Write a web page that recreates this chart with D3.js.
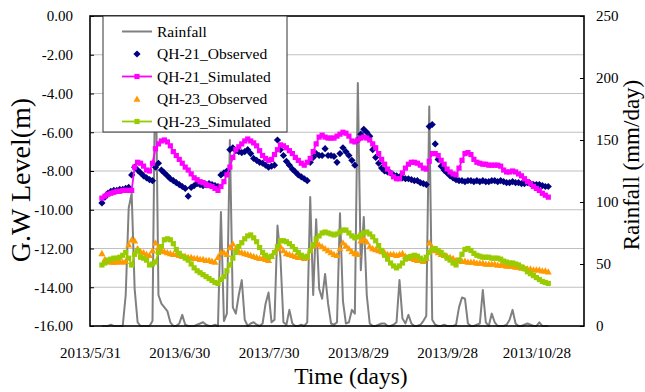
<!DOCTYPE html>
<html><head><meta charset="utf-8">
<script src="https://cdn.jsdelivr.net/npm/d3@7"></script>
<style>
html,body{margin:0;padding:0;background:#fff;}
svg{display:block;}
svg text{font-family:"Liberation Serif","Times New Roman",serif !important;fill:#000;}
</style></head><body>
<svg id="chart" width="645" height="392"></svg>
<script>
// Daily records, one value per day starting on this date
const startDate = "2013-06-04";

// Rainfall (mm/day)
const rainfall = [
  0,0,0,1,0,0,0,0,25,95,
  107,30,3,0,0,0,0,4,230,25,
  18,15,12,3,0,0,2,9,1,0,
  0,0,1,2,3,1,0,0,1,0,
  92,4,10,150,15,10,25,37,5,0,
  2,3,1,0,2,18,27,3,5,81,
  55,3,1,13,2,0,0,1,0,3,
  104,25,86,30,22,42,18,2,1,3,
  91,20,2,3,13,10,196,45,88,25,
  2,0,0,1,2,2,0,0,1,3,
  37,6,2,9,2,0,0,1,4,8,
  177,5,1,0,0,1,0,0,0,1,
  15,23,22,2,0,0,1,2,29,3,
  0,10,3,0,0,0,1,5,13,2,
  0,0,1,2,1,0,0,3,0,0,
  0
];

// Groundwater level (m), well QH-21
const qh21Observed = [
  -9.65,-9.35,-9.15,-9.05,-9.0,-9.0,-8.95,-8.95,-8.9,-8.85,
  -8.2,-7.8,-7.95,-8.1,-8.25,-8.35,-8.45,-8.5,-7.8,-7.6,
  -7.95,-8.1,-8.25,-8.4,-8.5,-8.6,-8.7,-8.8,-8.9,-9.3,
  -8.85,-8.75,-8.65,-8.7,-8.75,-8.7,-8.65,-8.7,-8.75,-8.8,
  -8.2,-8.1,-8.0,-6.9,-6.8,-6.95,-7.0,-7.05,-7.0,-6.9,
  -7.1,-7.35,-7.45,-7.55,-7.6,-7.7,-7.8,-7.75,-7.7,-6.4,
  -6.9,-7.2,-7.5,-7.7,-7.9,-8.05,-8.2,-8.3,-8.4,-8.5,
  -7.55,-7.3,-7.1,-7.2,-7.2,-6.85,-7.2,-7.2,-7.25,-7.55,
  -7.1,-6.8,-7.0,-7.2,-7.45,-7.7,-6.4,-6.1,-5.85,-6.0,
  -6.2,-6.9,-7.3,-7.6,-7.85,-8.0,-8.05,-8.1,-8.2,-8.25,
  -8.3,-8.35,-8.4,-8.4,-8.45,-8.5,-8.5,-8.6,-8.65,-8.7,
  -5.7,-5.6,-6.6,-7.4,-7.75,-7.95,-8.1,-8.25,-8.35,-8.45,
  -8.5,-8.5,-8.55,-8.5,-8.5,-8.55,-8.5,-8.55,-8.5,-8.55,
  -8.55,-8.5,-8.5,-8.55,-8.5,-8.55,-8.6,-8.6,-8.55,-8.6,
  -8.6,-8.65,-8.65,-8.6,-8.65,-8.7,-8.7,-8.7,-8.75,-8.8,
  -8.8
];
const qh21Simulated = [
  -9.4,-9.3,-9.2,-9.15,-9.1,-9.05,-9.05,-9.0,-9.0,-9.0,
  -9.0,-7.8,-7.55,-7.6,-7.75,-7.95,-8.0,-7.6,-6.85,-6.6,
  -6.45,-6.4,-6.5,-6.7,-7.0,-7.2,-7.4,-7.6,-7.8,-7.95,
  -8.15,-8.35,-8.45,-8.55,-8.6,-8.7,-8.75,-8.8,-8.9,-9.0,
  -8.8,-8.55,-8.2,-7.8,-7.3,-6.9,-6.75,-6.6,-6.45,-6.35,
  -6.45,-6.55,-6.7,-6.95,-7.2,-7.35,-7.45,-7.4,-7.15,-6.9,
  -6.65,-6.7,-6.8,-6.95,-7.1,-7.3,-7.45,-7.6,-7.7,-7.55,
  -7.35,-7.0,-6.6,-6.25,-6.15,-6.25,-6.3,-6.3,-6.3,-6.2,
  -6.1,-6.0,-6.05,-6.2,-6.45,-6.5,-6.4,-6.3,-6.25,-6.3,
  -6.4,-6.6,-6.8,-7.1,-7.4,-7.65,-7.9,-8.1,-8.3,-8.4,
  -8.4,-8.1,-7.85,-7.65,-7.55,-7.55,-7.6,-7.7,-7.85,-7.9,
  -7.5,-7.1,-7.1,-7.2,-7.45,-7.65,-7.9,-8.05,-8.15,-8.2,
  -7.85,-7.45,-7.1,-7.05,-7.15,-7.4,-7.55,-7.6,-7.65,-7.65,
  -7.7,-7.7,-7.7,-7.7,-7.75,-7.95,-8.05,-8.05,-8.0,-8.05,
  -8.15,-8.25,-8.4,-8.55,-8.65,-8.8,-8.9,-9.0,-9.15,-9.25,
  -9.35
];

// Groundwater level (m), well QH-23
const qh23Observed = [
  -12.25,-12.55,-12.65,-12.7,-12.7,-12.7,-12.65,-12.7,-12.65,-11.8,
  -11.55,-11.6,-12.0,-12.15,-12.2,-12.3,-12.35,-12.1,-11.7,-11.95,
  -12.1,-12.15,-12.2,-12.25,-12.3,-12.3,-12.35,-12.4,-12.4,-12.45,
  -12.45,-12.5,-12.5,-12.55,-12.55,-12.6,-12.6,-12.65,-12.7,-12.45,
  -12.2,-12.2,-12.3,-11.95,-11.75,-12.0,-12.15,-12.2,-12.25,-12.3,
  -12.35,-12.4,-12.45,-12.5,-12.5,-12.55,-12.6,-12.4,-12.2,-12.0,
  -11.9,-12.1,-12.25,-12.3,-12.35,-12.4,-12.45,-12.45,-12.5,-12.45,
  -12.1,-11.85,-11.7,-11.8,-11.9,-12.0,-12.1,-12.2,-12.3,-12.35,
  -12.0,-11.7,-11.85,-12.0,-12.15,-12.25,-12.3,-11.6,-11.5,-11.65,
  -11.9,-12.0,-12.05,-12.1,-12.15,-12.2,-12.3,-12.3,-12.3,-12.35,
  -12.3,-12.25,-12.4,-12.45,-12.5,-12.55,-12.6,-12.6,-12.65,-12.5,
  -11.7,-11.95,-12.1,-12.2,-12.3,-12.35,-12.4,-12.45,-12.5,-12.6,
  -12.6,-12.65,-12.65,-12.7,-12.7,-12.7,-12.75,-12.75,-12.75,-12.8,
  -12.8,-12.8,-12.8,-12.85,-12.85,-12.85,-12.9,-12.9,-12.9,-12.95,
  -12.95,-13.0,-13.0,-13.05,-13.05,-13.1,-13.1,-13.1,-13.15,-13.15,
  -13.2
];
const qh23Simulated = [
  -12.85,-12.75,-12.6,-12.55,-12.5,-12.5,-12.45,-12.35,-12.2,-12.5,
  -12.85,-12.3,-12.1,-12.45,-12.5,-12.6,-12.85,-12.8,-12.7,-12.2,
  -11.9,-11.55,-11.5,-11.55,-11.75,-12.05,-12.25,-12.4,-12.5,-12.6,
  -12.8,-13.0,-13.15,-13.25,-13.35,-13.45,-13.55,-13.65,-13.75,-13.8,
  -13.6,-13.45,-13.15,-12.85,-12.5,-12.2,-11.9,-11.7,-11.5,-11.35,
  -11.3,-11.45,-11.65,-11.95,-12.2,-12.35,-12.45,-12.4,-12.2,-11.9,
  -11.6,-11.6,-11.65,-11.75,-11.9,-12.05,-12.2,-12.35,-12.45,-12.4,
  -12.1,-11.8,-11.5,-11.35,-11.2,-11.15,-11.2,-11.25,-11.3,-11.25,
  -11.15,-11.05,-11.05,-11.2,-11.35,-11.45,-11.4,-11.3,-11.2,-11.15,
  -11.25,-11.4,-11.6,-11.85,-12.1,-12.35,-12.55,-12.75,-12.9,-13.0,
  -12.9,-12.75,-12.55,-12.45,-12.4,-12.35,-12.4,-12.5,-12.6,-12.45,
  -12.2,-12.05,-12.0,-12.1,-12.2,-12.35,-12.5,-12.6,-12.75,-12.85,
  -12.6,-12.3,-12.05,-12.0,-12.1,-12.25,-12.35,-12.4,-12.45,-12.45,
  -12.45,-12.5,-12.5,-12.5,-12.55,-12.65,-12.7,-12.75,-12.75,-12.8,
  -12.85,-12.95,-13.05,-13.2,-13.3,-13.4,-13.5,-13.6,-13.7,-13.75,
  -13.8
];

// Axis labels
const xTickLabels = ["2013/5/31","2013/6/30","2013/7/30","2013/8/29","2013/9/28","2013/10/28"];
const xDomainLabels = ["2013/5/31","2013/11/13"];
const levelTicks = [0,-2,-4,-6,-8,-10,-12,-14,-16];
const rainTicks = [0,50,100,150,200,250];
const legendLabels = ["Rainfall","QH-21_Observed","QH-21_Simulated","QH-23_Observed","QH-23_Simulated"];

const parseSlash = d3.timeParse("%Y/%m/%d");
const start = d3.timeParse("%Y-%m-%d")(startDate);
const dates = rainfall.map((_, i) => d3.timeDay.offset(start, i));

const L = 90, R = 584, T = 16, B = 326;
const svg = d3.select("#chart");

const x = d3.scaleTime().domain(xDomainLabels.map(parseSlash)).range([L, R]);
const y = d3.scaleLinear().domain([-16, 0]).range([B, T]);
const yRain = d3.scaleLinear().domain([0, 250]).range([B, T]);

const colors = {
  rain: "#808080",
  obs21: "#000080",
  sim21: "#ff00ff",
  obs23: "#ff9900",
  sim23: "#99cc00"
};

// horizontal gridlines
svg.append("g").selectAll("line")
  .data(levelTicks.filter(v => v !== 0 && v !== -16))
  .join("line")
  .attr("x1", L).attr("x2", R)
  .attr("y1", d => y(d)).attr("y2", d => y(d))
  .attr("stroke", "#c0c0c0").attr("stroke-width", 1.2);

// left axis
const axisLeft = svg.append("g").attr("transform", `translate(${L},0)`)
  .call(d3.axisLeft(y).tickValues(levelTicks).tickSize(-4).tickPadding(17)
    .tickFormat(d => d.toFixed(2)));
axisLeft.select(".domain").remove();

// right axis (rainfall)
const axisRight = svg.append("g").attr("transform", `translate(${R},0)`)
  .call(d3.axisRight(yRain).tickValues(rainTicks).tickSize(-4).tickPadding(12)
    .tickFormat(d3.format("d")));
axisRight.select(".domain").remove();

// bottom axis (dates)
const axisBottom = svg.append("g").attr("transform", `translate(0,${B})`)
  .call(d3.axisBottom(x).tickValues(xTickLabels.map(parseSlash)).tickSize(0).tickPadding(21)
    .tickFormat(d3.timeFormat("%Y/%-m/%-d")));
axisBottom.select(".domain").remove();

[axisLeft, axisRight, axisBottom].forEach(a => a.attr("font-family", null).attr("font-size", 15));
svg.selectAll(".tick line").attr("stroke", "#000");

// rainfall line
const plot = svg.append("g");
plot.append("path")
  .datum(rainfall)
  .attr("fill", "none").attr("stroke", colors.rain).attr("stroke-width", 2)
  .attr("stroke-linejoin", "round")
  .attr("d", d3.line().x((d, i) => x(dates[i])).y(d => yRain(d)));

const diamond = r => `M0,${-r}L${r},0L0,${r}L${-r},0Z`;
const triangle = r => `M0,${-r}L${r},${r * 0.8}L${-r},${r * 0.8}Z`;
const square = "M-2.6,-2.6H2.6V2.6H-2.6Z";
const levelLine = d3.line().x((d, i) => x(dates[i])).y(d => y(d));

function drawMarkers(values, shape, color) {
  plot.append("g").selectAll("path")
    .data(values)
    .join("path")
    .attr("transform", (d, i) => `translate(${x(dates[i])},${y(d)})`)
    .attr("d", shape)
    .attr("fill", color);
}
function drawSimulated(values, color) {
  plot.append("path").datum(values)
    .attr("fill", "none").attr("stroke", color).attr("stroke-width", 1.8)
    .attr("d", levelLine);
  drawMarkers(values, square, color);
}

drawMarkers(qh21Observed, diamond(3.6), colors.obs21);
drawSimulated(qh21Simulated, colors.sim21);
drawMarkers(qh23Observed, triangle(3.5), colors.obs23);
drawSimulated(qh23Simulated, colors.sim23);

// plot frame
svg.append("rect")
  .attr("x", L).attr("y", T).attr("width", R - L).attr("height", B - T)
  .attr("fill", "none").attr("stroke", "#000").attr("stroke-width", 1.6);

// axis titles
svg.append("text")
  .attr("transform", "translate(30,180) rotate(-90)")
  .attr("text-anchor", "middle").attr("font-size", 28)
  .text("G.W Level(m)");
svg.append("text")
  .attr("transform", "translate(639,165) rotate(-90)")
  .attr("text-anchor", "middle").attr("font-size", 23)
  .text("Rainfall (mm/day)");
svg.append("text")
  .attr("x", 351).attr("y", 384)
  .attr("text-anchor", "middle").attr("font-size", 23.5)
  .text("Time (days)");

// legend
const lg = svg.append("g");
lg.append("rect")
  .attr("x", 103).attr("y", 16).attr("width", 184).attr("height", 116)
  .attr("fill", "#fff").attr("stroke", "#333").attr("stroke-width", 1);
const rowY = i => 31.5 + i * 22.5;
const legendKeys = ["rain", "obs21", "sim21", "obs23", "sim23"];
legendKeys.forEach((k, i) => {
  const cy = rowY(i);
  const g = lg.append("g");
  if (k === "rain" || k === "sim21" || k === "sim23") {
    g.append("line").attr("x1", 122).attr("x2", 152).attr("y1", cy).attr("y2", cy)
      .attr("stroke", colors[k]).attr("stroke-width", k === "rain" ? 2 : 1.8);
  }
  if (k === "obs21") g.append("path").attr("transform", `translate(137,${cy})`).attr("d", diamond(3.6)).attr("fill", colors[k]);
  if (k === "obs23") g.append("path").attr("transform", `translate(137,${cy})`).attr("d", triangle(3.5)).attr("fill", colors[k]);
  if (k === "sim21" || k === "sim23") g.append("path").attr("transform", `translate(137,${cy})`).attr("d", square).attr("fill", colors[k]);
  g.append("text").attr("x", 157).attr("y", cy).attr("dy", "0.35em")
    .attr("font-size", 15.5).text(legendLabels[i]);
});
</script>
</body></html>
